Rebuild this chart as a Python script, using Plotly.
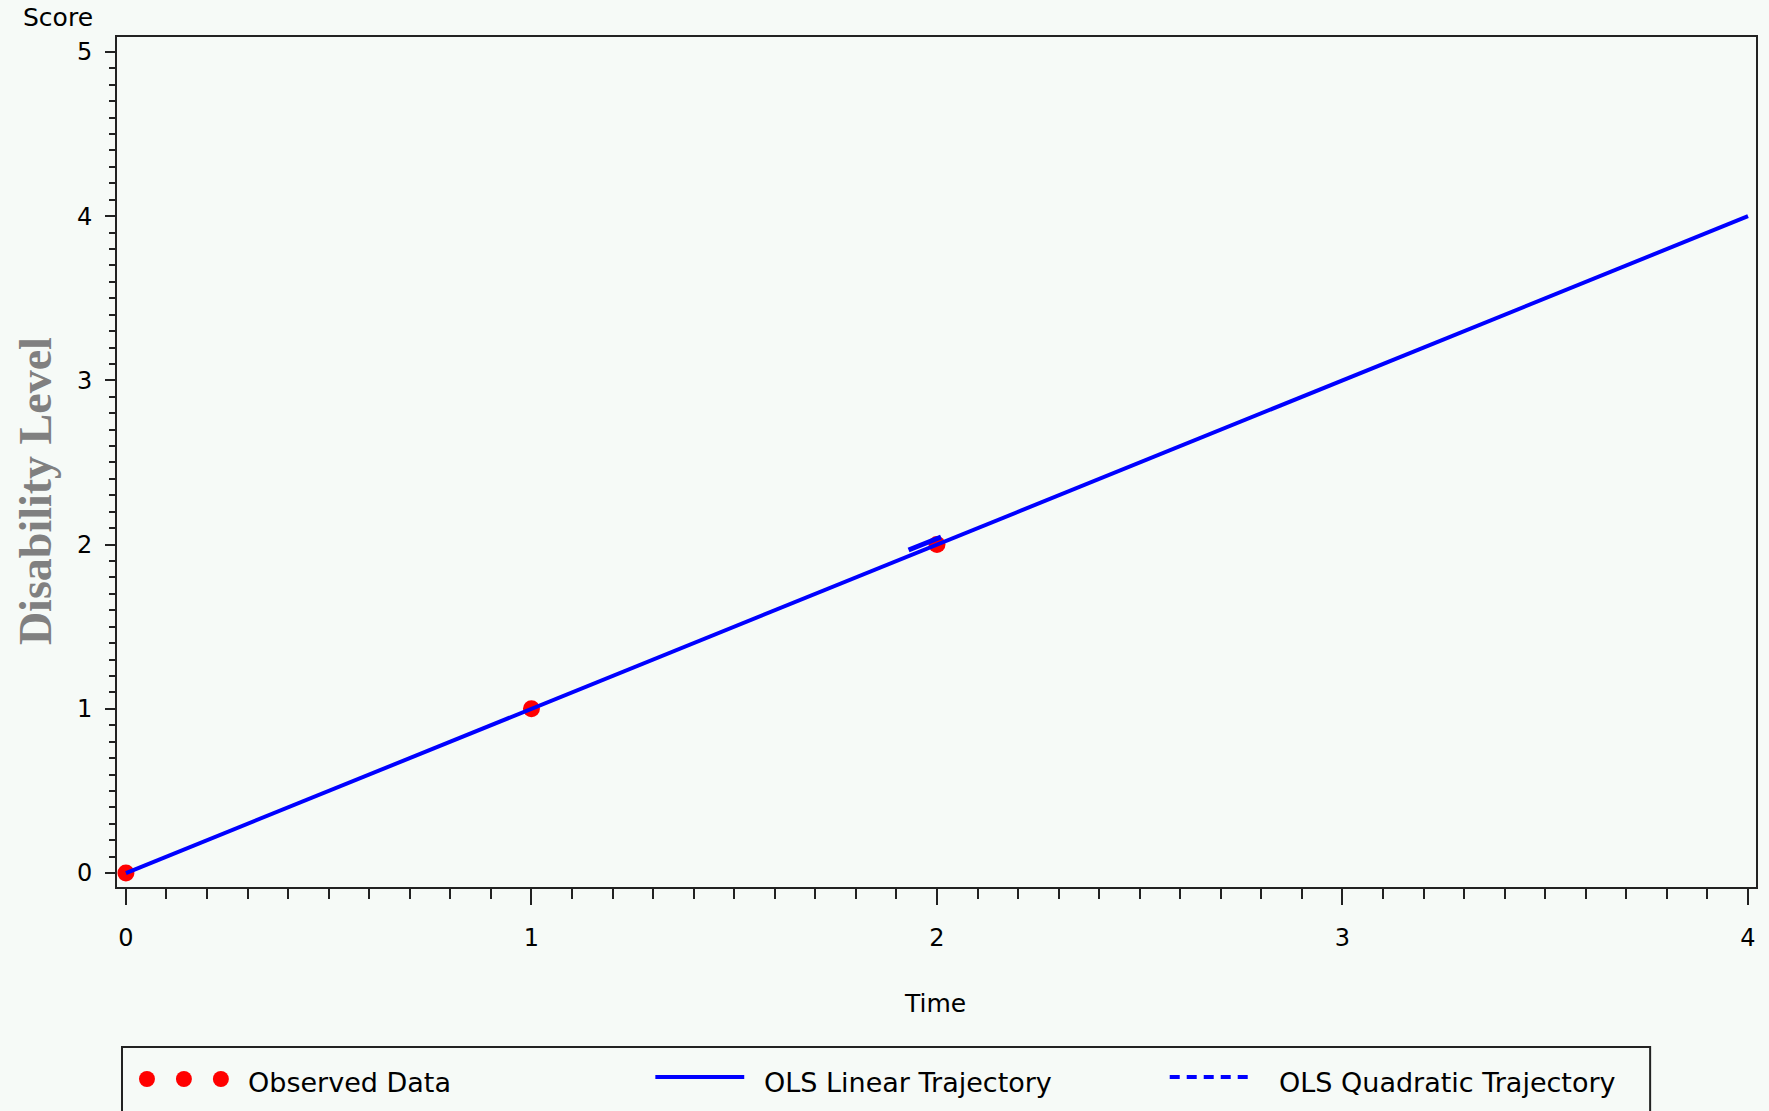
import plotly.graph_objects as go

# ---- data ----
obs_time = [0, 1, 2]
obs_score = [0, 1, 2]
lin_time = [0, 4]
lin_score = [0, 4]
quad_time = [1.93, 2.01]
quad_score = [1.967, 2.046]
x_ticks = [0, 1, 2, 3, 4]
y_ticks = [0, 1, 2, 3, 4, 5]
legend_labels = ["Observed Data", "OLS Linear Trajectory", "OLS Quadratic Trajectory"]

W, H = 1769, 1111
L, R, T, B = 117, 1758, 37, 887
PW, PH = R - L, B - T
BG = "#F6FAF7"


def px_x(p):
    return (p - L) / PW


def px_y(p):
    return (B - p) / PH


fig = go.Figure()
fig.add_trace(go.Scatter(x=obs_time, y=obs_score, mode="markers",
                         marker=dict(color="#FF0000", size=17), showlegend=False))
fig.add_trace(go.Scatter(x=lin_time, y=lin_score, mode="lines",
                         line=dict(color="#0000FF", width=4), showlegend=False))
fig.add_trace(go.Scatter(x=quad_time, y=quad_score, mode="lines",
                         line=dict(color="#0000FF", width=5), showlegend=False))

tickfont = dict(family="DejaVu Sans", size=24, color="#000000")
fig.update_xaxes(range=[-0.022, 4.0197], tickvals=x_ticks, ticks="outside", ticklen=16,
                 tickwidth=2, tickcolor="#222", showline=True, linewidth=2, linecolor="#222",
                 mirror=True, showgrid=False, zeroline=False, tickfont=tickfont,
                 ticklabelstandoff=12,
                 minor=dict(dtick=0.1, tick0=0, ticks="outside", ticklen=10, tickwidth=2,
                            tickcolor="#222", showgrid=False))
fig.update_yaxes(range=[-0.085, 5.091], tickvals=y_ticks, ticks="outside", ticklen=10,
                 tickwidth=2, tickcolor="#222", showline=True, linewidth=2, linecolor="#222",
                 mirror=True, showgrid=False, zeroline=False, tickfont=tickfont,
                 ticklabelstandoff=8,
                 minor=dict(dtick=0.1, tick0=0, ticks="outside", ticklen=6, tickwidth=2,
                            tickcolor="#222", showgrid=False))

common = dict(xref="paper", yref="paper", showarrow=False, xanchor="center", yanchor="middle")
annotations = [
    dict(text="Score", x=px_x(58), y=px_y(17),
         font=dict(family="DejaVu Sans", size=25, color="#000"), **common),
    dict(text="Time", x=px_x(936), y=px_y(1003),
         font=dict(family="DejaVu Sans", size=25, color="#000"), **common),
    dict(text="<b>Disability Level</b>", x=px_x(35), y=px_y(491), textangle=-90,
         font=dict(family="Liberation Serif", size=46, color="#808080"), **common),
]
legend_text_x = [246, 763, 1278]
for lbl, lx in zip(legend_labels, legend_text_x):
    annotations.append(dict(text=lbl, x=px_x(lx), y=px_y(1082), xref="paper", yref="paper",
                            xanchor="left", yanchor="middle", showarrow=False,
                            font=dict(family="DejaVu Sans", size=27, color="#000")))

shapes = [
    dict(type="rect", xref="paper", yref="paper", x0=px_x(122), x1=px_x(1652),
         y0=px_y(1047), y1=px_y(1140), line=dict(color="#222", width=2), fillcolor=BG,
         layer="below"),
]
for cx in [147, 184, 221]:
    shapes.append(dict(type="circle", xref="paper", yref="paper",
                       x0=px_x(cx - 8), x1=px_x(cx + 8), y0=px_y(1079 - 8), y1=px_y(1079 + 8),
                       fillcolor="#FF0000", line=dict(width=0)))
shapes.append(dict(type="line", xref="paper", yref="paper", x0=px_x(656), x1=px_x(745),
                   y0=px_y(1077), y1=px_y(1077), line=dict(color="#0000FF", width=4)))
shapes.append(dict(type="line", xref="paper", yref="paper", x0=px_x(1171), x1=px_x(1252),
                   y0=px_y(1077), y1=px_y(1077),
                   line=dict(color="#0000FF", width=4, dash="10px,7px")))

fig.update_layout(width=W, height=H, margin=dict(l=L, r=W - R, t=T, b=H - B),
                  paper_bgcolor=BG, plot_bgcolor=BG, annotations=annotations,
                  shapes=shapes, showlegend=False)

fig.write_html("out.html")
